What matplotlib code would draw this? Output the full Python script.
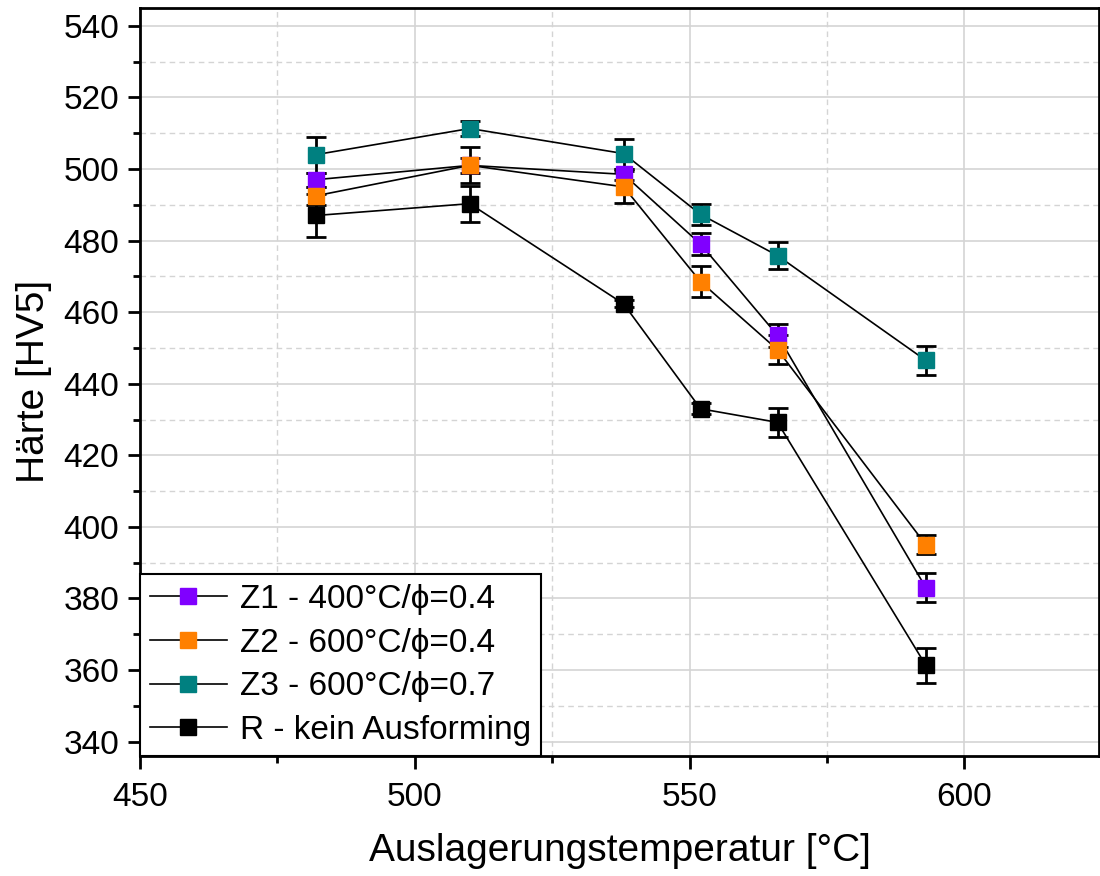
import matplotlib.pyplot as plt
import numpy as np
from matplotlib.ticker import MultipleLocator
from matplotlib.lines import Line2D

plt.rcParams['font.family'] = ['Liberation Sans', 'DejaVu Sans']

T = np.array([482, 510, 538, 552, 566, 593])   # Auslagerungstemperatur

z1 = np.array([497, 501, 498.5, 479, 453.5, 383])
z1_err = np.array([2, 2, 1.5, 3, 3.2, 4])
z2 = np.array([492.5, 501, 495, 468.5, 449.5, 395])
z2_err = np.array([2.5, 5, 4.5, 4.3, 4, 2.7])
z3 = np.array([504, 511.3, 504.3, 487.3, 475.8, 446.5])
z3_err = np.array([5, 2, 4.2, 3, 3.8, 4])
r = np.array([487, 490.3, 462.3, 433, 429.2, 361.3])
r_err = np.array([6, 5, 1, 1.5, 4, 5])

labels = ['Z1 - 400°C/ϕ=0.4', 'Z2 - 600°C/ϕ=0.4', 'Z3 - 600°C/ϕ=0.7', 'R - kein Ausforming']
colors = ['#8000ff', '#ff8000', '#008080', '#000000']

fig = plt.figure(figsize=(11, 8.76), dpi=100)
ax = fig.add_axes([0.1273, 0.137, 0.8718, 0.854])

handles = []
for y, e, c, lab in zip([z1, z2, z3, r], [z1_err, z2_err, z3_err, r_err], colors, labels):
    ax.errorbar(T, y, yerr=e, fmt='s-', color='black', lw=1.2, ms=11.5,
                mfc=c, mec=c, ecolor='black', elinewidth=2, capsize=7,
                capthick=2)
    handles.append(Line2D([], [], color='black', lw=1.2, marker='s', ms=11.5,
                          mfc=c, mec=c, label=lab))

ax.set_xlim(450, 624.5)
ax.set_ylim(336, 545)
ax.xaxis.set_major_locator(MultipleLocator(50))
ax.xaxis.set_minor_locator(MultipleLocator(25))
ax.yaxis.set_major_locator(MultipleLocator(20))
ax.yaxis.set_minor_locator(MultipleLocator(10))

ax.grid(which='major', color='#d4d4d4', lw=1.2, ls='-')
ax.grid(which='minor', color='#d4d4d4', lw=1.0, ls=(0, (4, 3)))
ax.set_axisbelow(True)

ax.tick_params(which='major', length=9, width=2, labelsize=24, direction='out')
ax.tick_params(which='minor', length=5, width=2, direction='out')
ax.tick_params(axis='x', pad=10)
ax.tick_params(axis='y', pad=6)
for s in ax.spines.values():
    s.set_linewidth(2)

ax.set_xlabel('Auslagerungstemperatur [°C]', fontsize=28, labelpad=14)
ax.set_ylabel('Härte [HV5]', fontsize=28, labelpad=8)

leg = ax.legend(handles=handles, loc='lower left', fontsize=24, borderaxespad=0,
                frameon=True, fancybox=False, edgecolor='black', framealpha=1,
                handlelength=2.3, handletextpad=0.4, borderpad=0.3,
                labelspacing=0.38, numpoints=1)
leg.get_frame().set_linewidth(1.5)

fig.savefig('out.png', dpi=100)
